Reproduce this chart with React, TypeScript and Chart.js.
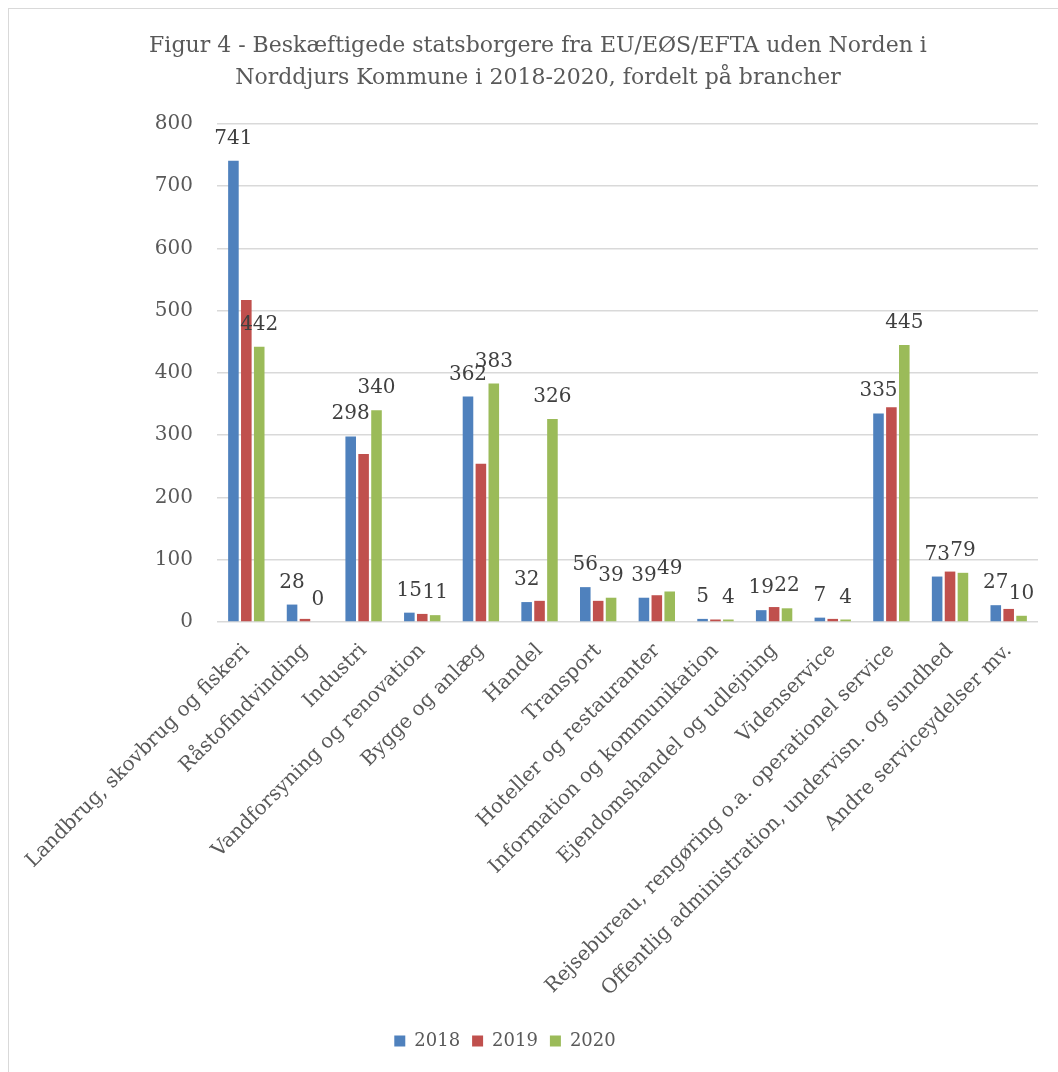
import {useEffect, useRef} from 'react'
import {Chart, registerables} from 'chart.js'
import type {ChartOptions, Plugin} from 'chart.js'

Chart.register(...registerables)

const categories = [
    'Landbrug, skovbrug og fiskeri',
    'Råstofindvinding',
    'Industri',
    'Vandforsyning og renovation',
    'Bygge og anlæg',
    'Handel',
    'Transport',
    'Hoteller og restauranter',
    'Information og kommunikation',
    'Ejendomshandel og udlejning',
    'Videnservice',
    'Rejsebureau, rengøring o.a. operationel service',
    'Offentlig administration, undervisn. og sundhed',
    'Andre serviceydelser mv.',
]

const years = ['2018', '2019', '2020']
const values2018 = [741, 28, 298, 15, 362, 32, 56, 39, 5, 19, 7, 335, 73, 27]
const values2019 = [517, 5, 270, 13, 254, 34, 34, 43, 4, 24, 5, 345, 81, 21]
const values2020 = [442, 0, 340, 11, 383, 326, 39, 49, 4, 22, 4, 445, 79, 10]
const yTicks = [0, 100, 200, 300, 400, 500, 600, 700, 800]

// only 2018 and 2020 carry value labels in the original
const labelledSeries = [0, 2]

const titleLines = [
    'Figur 4 - Beskæftigede statsborgere fra EU/EØS/EFTA uden Norden i',
    'Norddjurs Kommune i 2018-2020, fordelt på brancher',
]

const colors = ['#4f81bd', '#c0504d', '#9bbb59']
const textColor = '#595959'
const fontFamily = '"DejaVu Serif", serif'

const valueLabels: Plugin<'bar'> = {
    id: 'valueLabels',
    afterDatasetsDraw(chart) {
        const {ctx} = chart
        ctx.save()
        ctx.font = `20px ${fontFamily}`
        ctx.fillStyle = '#404040'
        ctx.textAlign = 'center'
        ctx.textBaseline = 'alphabetic'
        labelledSeries.forEach((datasetIndex) => {
            const meta = chart.getDatasetMeta(datasetIndex)
            const data = chart.data.datasets[datasetIndex].data as number[]
            meta.data.forEach((bar, i) => {
                const {x, y} = bar.getProps(['x', 'y'], true)
                ctx.fillText(String(data[i]), x, y - 17)
            })
        })
        ctx.restore()
    },
}

// the legend in the original sits a bit left of the title centre
const legendShift: Plugin<'bar'> = {
    id: 'legendShift',
    afterLayout(chart) {
        const legend = chart.legend
        if (!legend) return
        legend.left -= 33
        legend.right -= 33
    },
}

export default function App() {
    const canvasRef = useRef<HTMLCanvasElement>(null)
    const chartRef = useRef<Chart<'bar'> | null>(null)

    useEffect(() => {
        if (!canvasRef.current) return
        chartRef.current?.destroy()

        const options: ChartOptions<'bar'> = {
            responsive: true,
            maintainAspectRatio: false,
            animation: false,
            layout: {padding: {left: 29, right: 29, bottom: 27, top: 0}},
            plugins: {
                title: {
                    display: true,
                    text: titleLines,
                    color: textColor,
                    font: {family: fontFamily, size: 22, weight: 'normal', lineHeight: 1.43},
                    padding: {top: 22, bottom: 30},
                },
                legend: {
                    position: 'bottom',
                    labels: {
                        color: textColor,
                        font: {family: fontFamily, size: 18},
                        boxWidth: 11,
                        boxHeight: 11,
                        padding: 12,
                    },
                },
                tooltip: {enabled: false},
            },
            scales: {
                x: {
                    grid: {display: false},
                    border: {display: false},
                    afterFit: (scale) => {
                        scale.height = 398
                        scale.paddingLeft = 0
                    },
                    ticks: {
                        color: textColor,
                        font: {family: fontFamily, size: 20},
                        maxRotation: 45,
                        minRotation: 45,
                        autoSkip: false,
                        padding: 9,
                    },
                },
                y: {
                    min: 0,
                    max: 800,
                    grid: {color: '#d9d9d9', lineWidth: 1.5, drawTicks: false},
                    border: {display: false},
                    afterFit: (scale) => {
                        scale.width = 179
                    },
                    afterBuildTicks: (scale) => {
                        scale.ticks = yTicks.map((value) => ({value}))
                    },
                    ticks: {
                        color: textColor,
                        font: {family: fontFamily, size: 20},
                        padding: 24,
                    },
                },
            },
        }

        chartRef.current = new Chart(canvasRef.current, {
            type: 'bar',
            data: {
                labels: categories,
                datasets: [values2018, values2019, values2020].map((values, i) => ({
                    label: years[i],
                    data: values,
                    backgroundColor: colors[i],
                    categoryPercentage: 0.66,
                    barPercentage: 0.82,
                })),
            },
            options,
            plugins: [valueLabels, legendShift],
        })

        return () => {
            chartRef.current?.destroy()
            chartRef.current = null
        }
    }, [])

    return (
        <div style={{position: 'fixed', left: 8, top: 8, width: 1050, height: 1064, overflow: 'hidden', background: '#fff'}}>
            <div style={{width: 1060, height: 1080, border: '1px solid #d9d9d9', boxSizing: 'border-box'}}>
                <div style={{position: 'relative', width: 1058, height: 1078}}>
                    <canvas ref={canvasRef}/>
                </div>
            </div>
        </div>
    )
}
